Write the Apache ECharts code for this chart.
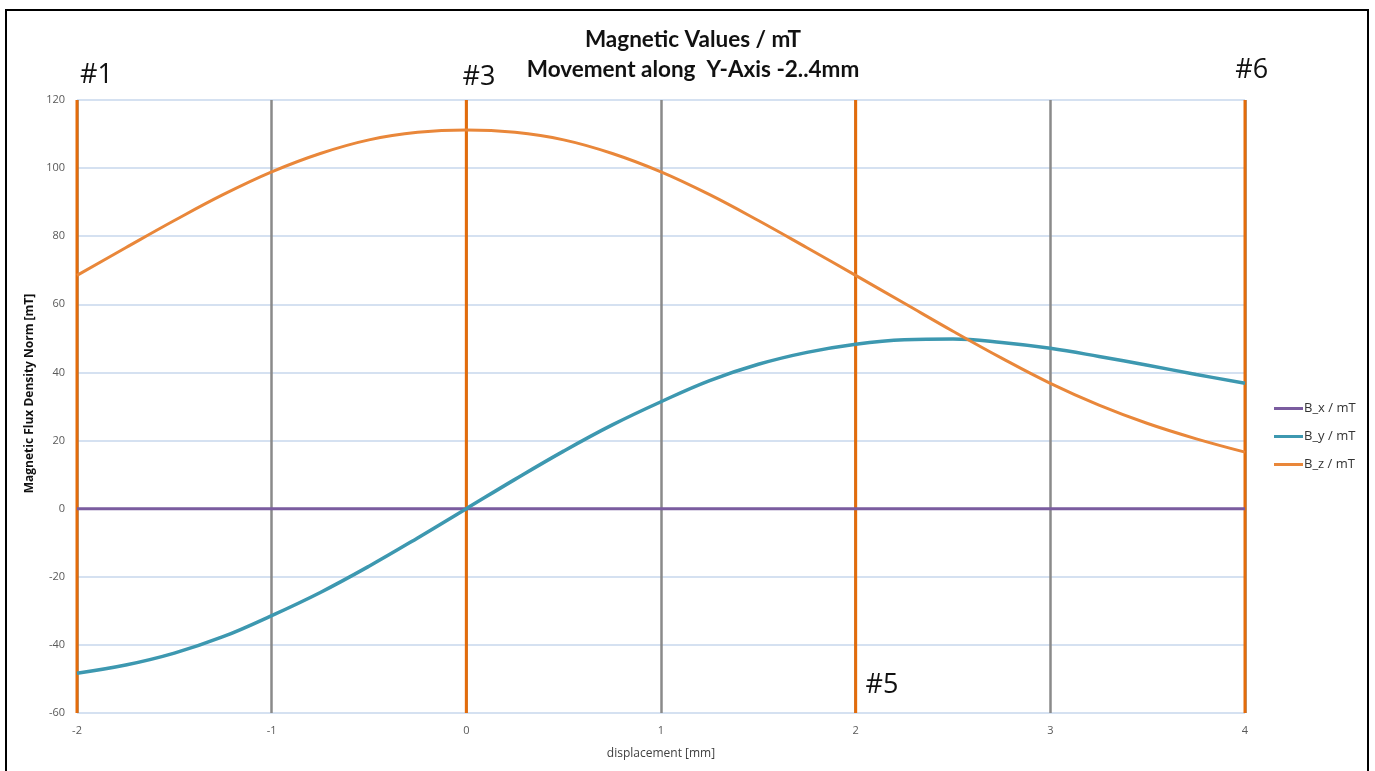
<!DOCTYPE html>
<html>
<head>
<meta charset="utf-8">
<script src="https://cdn.jsdelivr.net/npm/echarts@6/dist/echarts.min.js"></script>
<style>
  html, body { margin: 0; padding: 0; background: #fff; }
  #chart { width: 1375px; height: 771px; }
</style>
</head>
<body>
<div id="chart"></div>
<script>
// displacement [mm]
const displacement = [-2, -1.75, -1.5, -1.25, -1, -0.75, -0.5, -0.25, 0, 0.25, 0.5, 0.75, 1,
  1.25, 1.5, 1.75, 2, 2.25, 2.5, 2.75, 3, 3.25, 3.5, 3.75, 4]
const bx = [0, 0, 0, 0, 0, 0, 0, 0, 0, 0, 0, 0, 0, 0, 0, 0, 0, 0, 0, 0, 0, 0, 0, 0, 0]
const by = [-48.3, -45.9, -42.4, -37.6, -31.4, -24.6, -16.9, -8.6, 0, 8.6, 16.9, 24.6, 31.4,
  37.6, 42.4, 45.9, 48.3, 49.6, 49.8, 48.8, 47.1, 44.7, 42.1, 39.4, 36.8]
const bz = [68.5, 76.6, 84.6, 92.2, 98.9, 104.3, 108.3, 110.5, 111.2, 110.5, 108.3, 104.3, 98.9,
  92.2, 84.6, 76.6, 68.5, 60.3, 52.1, 44.2, 36.8, 30.4, 25.0, 20.5, 16.6]

const seriesNames = ['B_x / mT', 'B_y / mT', 'B_z / mT']
const seriesColors = ['#7a5c9f', '#3d98b0', '#e9873a']

// sensor positions (orange vertical markers)
const markerX = [-2, 0, 2, 4]
const markerLabels = [
  { text: '#1', x: -1.9, y: 127.3 },
  { text: '#3', x: 0.065, y: 126.7 },
  { text: '#5', x: 2.135, y: -52 },
  { text: '#6', x: 4.035, y: 128.8 },
]

const xTicks = { min: -2, max: 4, interval: 1 }
const yTicks = { min: -60, max: 120, interval: 20 }

const chart = echarts.init(document.getElementById('chart'))
const zip = (ys) => displacement.map((x, i) => [x, ys[i]])

const option = {
  animation: false,
  title: {
    text: 'Magnetic Values / mT\nMovement along  Y-Axis -2..4mm',
    left: 688,
    top: 20,
    textAlign: 'center',
    textStyle: { fontFamily: 'Lato', fontWeight: 'bold', fontSize: 22.5, lineHeight: 30, color: '#111' },
  },
  legend: {
    data: seriesNames,
    orient: 'vertical',
    left: 1269,
    top: 397,
    itemWidth: 29,
    itemHeight: 3,
    itemGap: 15,
    icon: 'rect',
    textStyle: { fontFamily: 'Open Sans', fontSize: 13, lineHeight: 13, color: '#333', padding: [0, 0, 0, -4] },
  },
  grid: { left: 77, right: 130, top: 100, bottom: 58 },
  xAxis: {
    type: 'value',
    ...xTicks,
    name: 'displacement [mm]',
    nameLocation: 'middle',
    nameGap: 35,
    nameTextStyle: { fontFamily: 'Open Sans', fontSize: 12, color: '#404040' },
    axisLine: { show: false },
    axisTick: { show: false },
    axisLabel: { fontFamily: 'Open Sans', fontSize: 11, color: '#595959', margin: 12 },
    splitLine: { show: true, lineStyle: { color: '#8a8a8a', width: 2.5 } },
  },
  yAxis: {
    type: 'value',
    ...yTicks,
    name: 'Magnetic Flux Density Norm [mT]',
    nameLocation: 'middle',
    nameGap: 38,
    nameTextStyle: { fontFamily: 'Open Sans', fontWeight: 'bold', fontSize: 12, color: '#111', padding: [0, 0, 0, 26] },
    axisLine: { show: false },
    axisTick: { show: false },
    axisLabel: { fontFamily: 'Open Sans', fontSize: 11, color: '#595959', margin: 12 },
    splitLine: { show: true, lineStyle: { color: '#c7d7ec', width: 1.5 } },
  },
  series: [
    ...markerX.map((x, i) => ({
      name: 'marker' + i,
      type: 'line',
      data: [[x, yTicks.min], [x, yTicks.max]],
      showSymbol: false,
      silent: true,
      z: 3,
      lineStyle: { color: '#e46c0a', width: 3 },
    })),
    ...[bx, by, bz].map((ys, i) => ({
      name: seriesNames[i],
      type: 'line',
      data: zip(ys),
      smooth: 0.4,
      showSymbol: false,
      z: 4,
      color: seriesColors[i],
      lineStyle: { color: seriesColors[i], width: i === 1 ? 3.5 : 3 },
    })),
  ],
}
chart.setOption(option)

// frame + sensor labels placed through the axes
const graphics = [{
  type: 'rect',
  shape: { x: 6, y: 10, width: 1362, height: 800 },
  style: { fill: 'none', stroke: '#000', lineWidth: 2 },
  silent: true,
}]
markerLabels.forEach((m) => {
  const [px, py] = chart.convertToPixel({ gridIndex: 0 }, [m.x, m.y])
  graphics.push({
    type: 'text',
    x: px,
    y: py,
    style: {
      text: m.text,
      fontFamily: 'Open Sans',
      fontSize: 27,
      fill: '#111',
      align: 'center',
      verticalAlign: 'middle',
    },
    z: 10,
  })
})
chart.setOption({ graphic: graphics })
</script>
</body>
</html>
